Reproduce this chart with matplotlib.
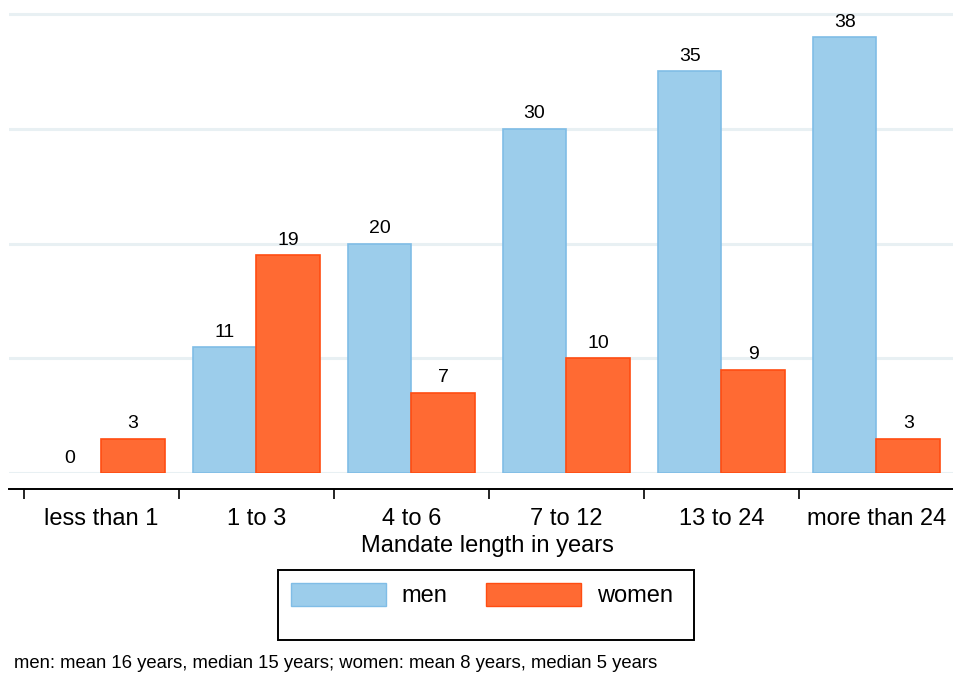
import numpy as np
import matplotlib
matplotlib.use("Agg")
import matplotlib.pyplot as plt
from matplotlib.patches import Patch, Rectangle

plt.rcParams['font.family'] = ['Liberation Sans', 'DejaVu Sans']

categories = ["less than 1", "1 to 3", "4 to 6", "7 to 12", "13 to 24", "more than 24"]
men = [0, 11, 20, 30, 35, 38]
women = [3, 19, 7, 10, 9, 3]
note = "men: mean 16 years, median 15 years; women: mean 8 years, median 5 years"

men_fill, men_edge = "#9ccdeb", "#80bde6"
women_fill, women_edge = "#ff6a33", "#ff4d12"

W, H = 954, 673
fig = plt.figure(figsize=(W / 100, H / 100), dpi=100)
ax = fig.add_axes([9 / W, (H - 473) / H, 1 - 9 / W, 473 / H])

x = np.arange(len(categories))
bw = 0.41
mbars = ax.bar(x - bw / 2, men, bw, color=men_fill, edgecolor=men_edge, linewidth=1.2, zorder=3)
wbars = ax.bar(x + bw / 2, women, bw, color=women_fill, edgecolor=women_edge, linewidth=1.2, zorder=3)
for b, v in zip(list(mbars) + list(wbars), men + women):
    if v == 0:
        b.set_visible(False)

for xi, v in zip(x - bw / 2, men):
    ax.annotate(str(v), (xi, v), xytext=(0, 4.5), textcoords="offset points",
                ha="center", va="bottom", fontsize=14)
for xi, v in zip(x + bw / 2, women):
    ax.annotate(str(v), (xi, v), xytext=(0, 4.5), textcoords="offset points",
                ha="center", va="bottom", fontsize=14)

ax.set_xlim(-(102 - 9) / 156.4, (W - 102) / 156.4)
ax.set_ylim(0, 473 / 11.475)

for g in [0, 10, 20, 30, 40]:
    ax.axhline(g, color="#e8f0f3", linewidth=2.2, zorder=1)

for s in ["top", "right", "left"]:
    ax.spines[s].set_visible(False)
ax.spines["bottom"].set_position(("outward", 11.5))
ax.spines["bottom"].set_linewidth(1.4)
ax.set_yticks([])

ax.set_xticks(np.arange(len(categories) + 1) - 0.5)
ax.set_xticklabels([])
ax.tick_params(axis="x", which="major", length=7, width=1.2, direction="out")
ax.set_xticks(x, minor=True)
ax.set_xticklabels(categories, minor=True, fontsize=17)
ax.tick_params(axis="x", which="minor", length=0, pad=13.5)

fig.text(487 / W, 1 - 552 / H, "Mandate length in years", fontsize=17,
         ha="center", va="baseline")

# legend frame drawn separately (extra empty space under the keys)
fig.patches.append(Rectangle((278 / W, 1 - 640 / H), 416 / W, 70 / H, fill=False,
                             edgecolor="black", linewidth=1.4, transform=fig.transFigure))
handles = [Patch(facecolor=men_fill, edgecolor=men_edge, label="men"),
           Patch(facecolor=women_fill, edgecolor=women_edge, label="women")]
fig.legend(handles=handles, loc="center", ncol=2,
           bbox_to_anchor=(482 / W, 1 - 595 / H), fontsize=17, frameon=False,
           handlelength=4.0, handleheight=1.15, columnspacing=1.65,
           handletextpad=0.68, borderpad=0)

fig.text(14 / W, 1 - 663 / H, note, fontsize=13.3, ha="left", va="center")

fig.savefig("out.png", dpi=100, facecolor="white")
